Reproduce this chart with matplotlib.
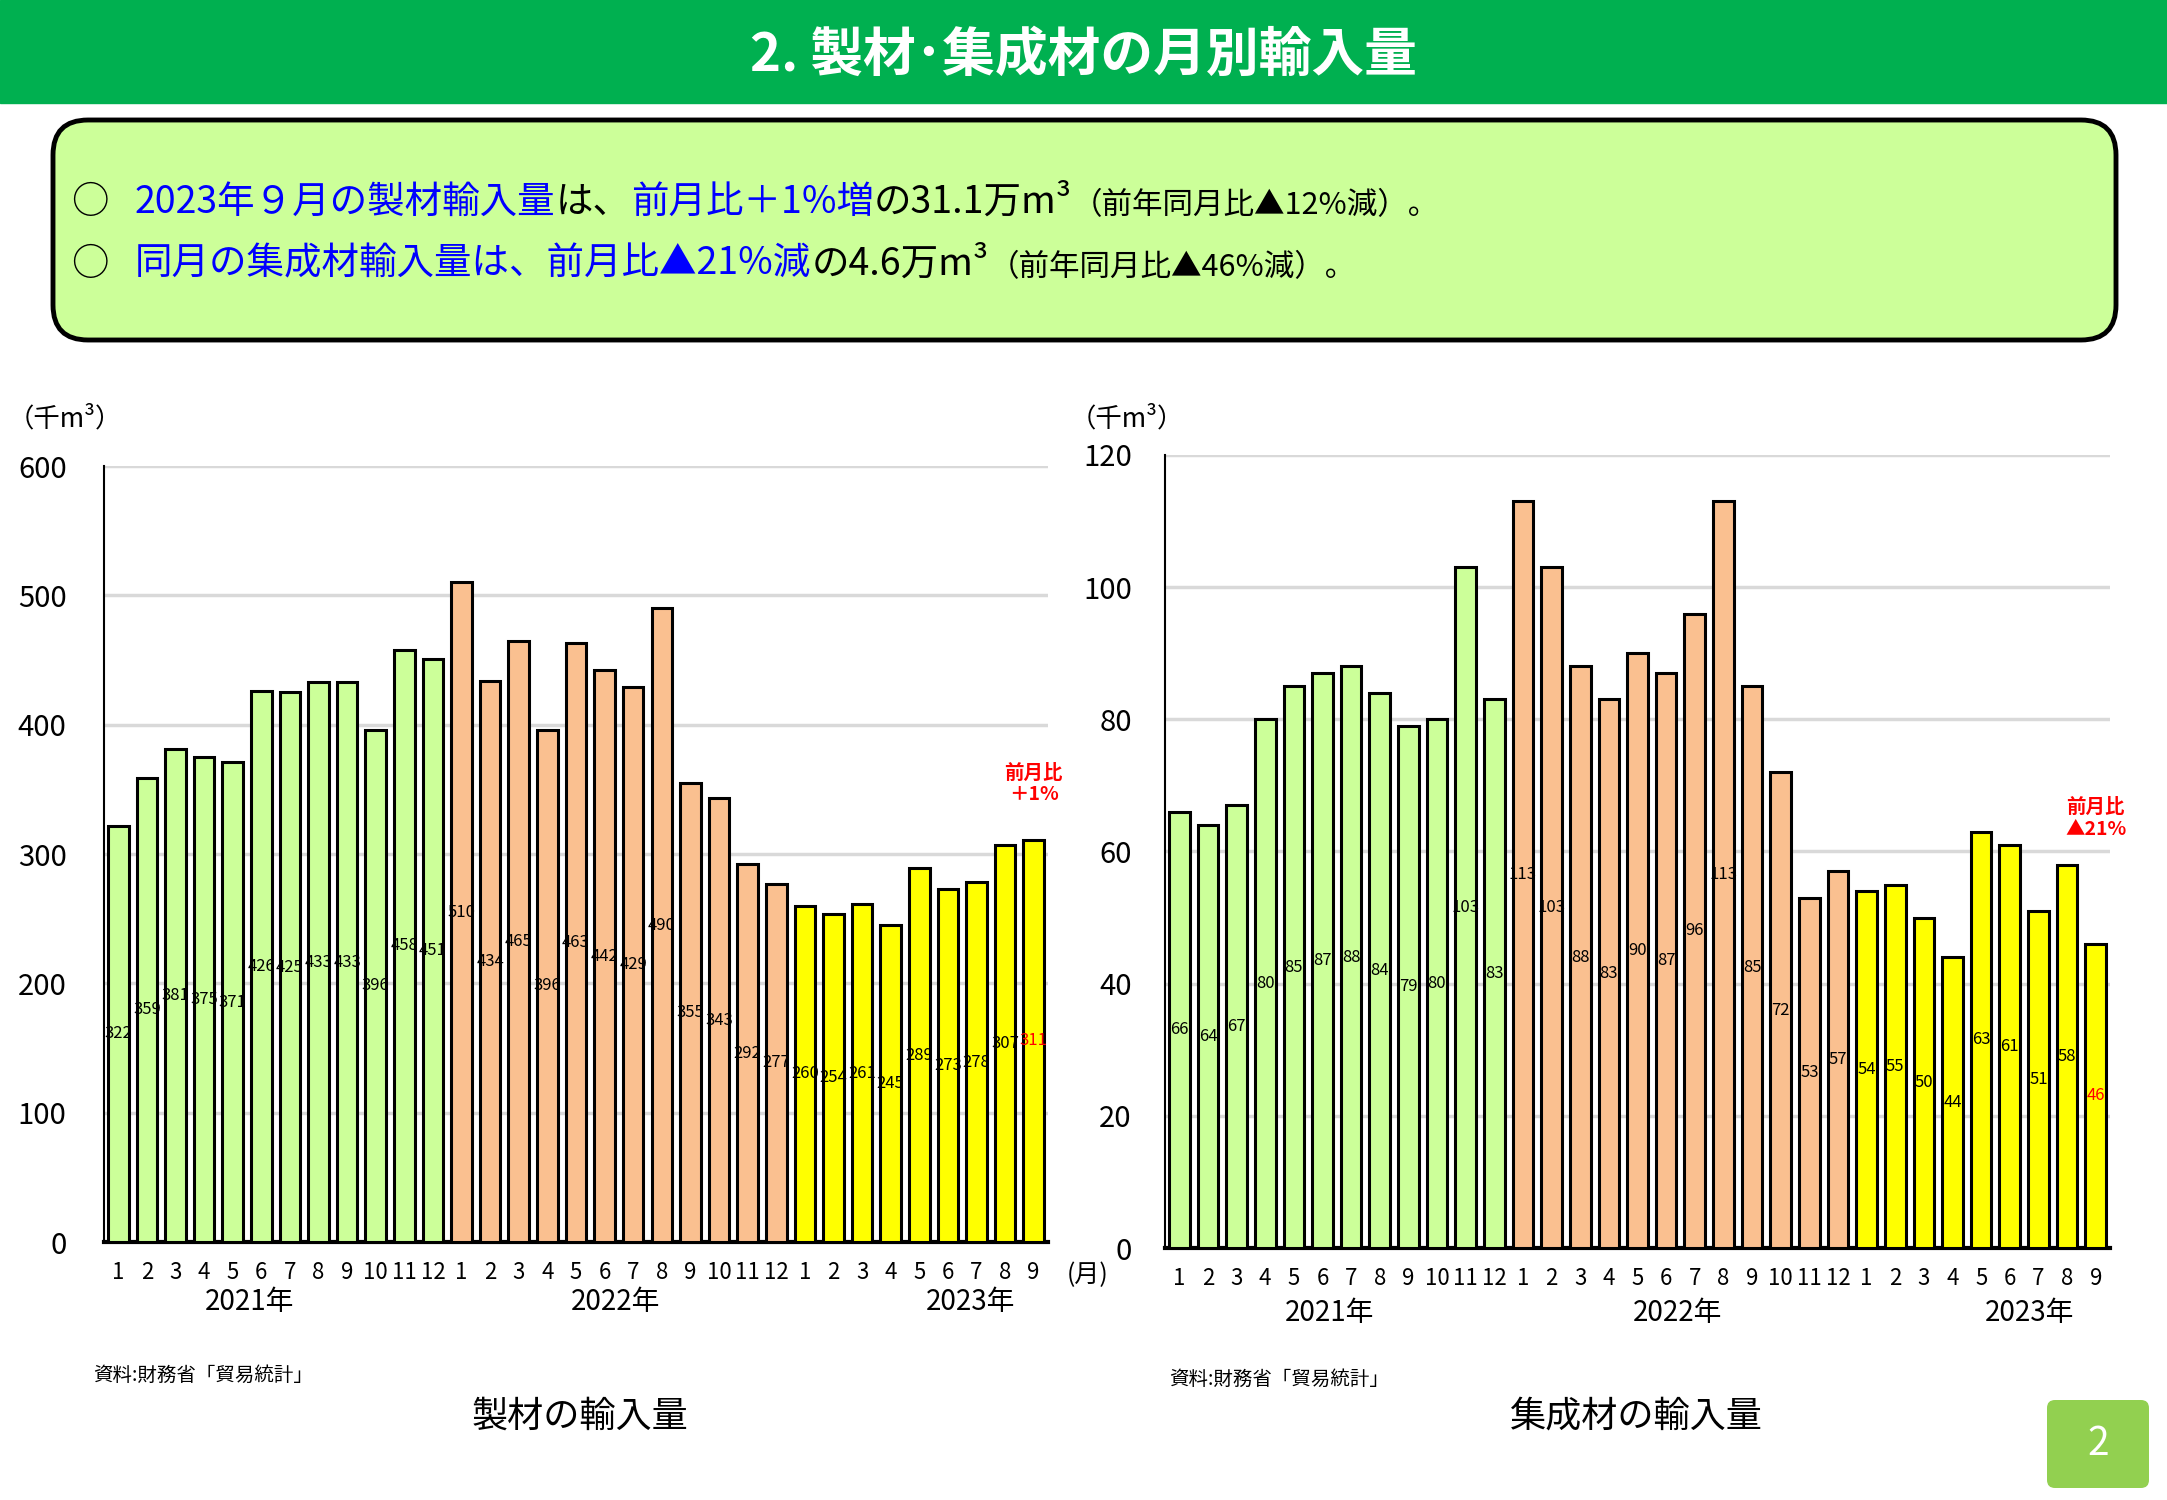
import matplotlib.pyplot as plt
from matplotlib.patches import FancyBboxPatch, Rectangle

plt.rcParams['font.family'] = ['Noto Sans CJK JP', 'DejaVu Sans']

# Data (thousand m3, Jan 2021 - Sep 2023)
months = [str(m) for m in range(1, 13)] * 2 + [str(m) for m in range(1, 10)]
years = ['2021年', '2022年', '2023年']
year_counts = [12, 12, 9]
year_colors = ['#CCFF99', '#FAC090', '#FFFF00']
sawn = [322, 359, 381, 375, 371, 426, 425, 433, 433, 396, 458, 451,
        510, 434, 465, 396, 463, 442, 429, 490, 355, 343, 292, 277,
        260, 254, 261, 245, 289, 273, 278, 307, 311]
glulam = [66, 64, 67, 80, 85, 87, 88, 84, 79, 80, 103, 83,
          113, 103, 88, 83, 90, 87, 96, 113, 85, 72, 53, 57,
          54, 55, 50, 44, 63, 61, 51, 58, 46]

BLUE = '#0000FF'
RED = '#FF0000'

fig = plt.figure(figsize=(21.67, 15), dpi=100)

# background layer in pixel units
bg = fig.add_axes([0, 0, 1, 1])
bg.set_xlim(0, 2167)
bg.set_ylim(1500, 0)
bg.axis('off')

# header band
bg.add_patch(Rectangle((0, 0), 2167, 103, color='#00B050'))
bg.text(1083, 55, '2. 製材･集成材の月別輸入量', color='white', fontsize=38,
        fontweight='bold', ha='center', va='center')

# summary box
bg.add_patch(FancyBboxPatch((53, 120), 2063, 220,
                            boxstyle='round,pad=0,rounding_size=35',
                            facecolor='#CCFF99', edgecolor='black', lw=3.5))


def write_line(x, y, parts):
    prev = bg.text(x, y, parts[0][0], color=parts[0][1], fontsize=parts[0][2],
                   ha='left', va='center')
    for txt, col, size in parts[1:]:
        prev = bg.annotate(txt, xy=(1, 0), xycoords=prev, color=col,
                           fontsize=size, ha='left', va='bottom')


bg.text(90, 202, '○', fontsize=27, ha='center', va='center')
bg.text(90, 264, '○', fontsize=27, ha='center', va='center')
write_line(135, 202, [('2023年９月の製材輸入量', BLUE, 27),
                      ('は、', 'black', 27),
                      ('前月比＋1%増', BLUE, 27),
                      ('の31.1万m³', 'black', 27),
                      ('（前年同月比▲12%減）。', 'black', 22)])
write_line(135, 264, [('同月の集成材輸入量は、前月比▲21%減', BLUE, 27),
                      ('の4.6万m³', 'black', 27),
                      ('（前年同月比▲46%減）。', 'black', 22)])

colors = []
for c, n in zip(year_colors, year_counts):
    colors += [c] * n


def draw_chart(ax, values, ymax, ystep, year_x, year_y, note, note_y, ypad):
    x = list(range(len(values)))
    ax.bar(x, values, width=0.72, color=colors, edgecolor='black', linewidth=2.2,
           zorder=3)
    for i, v in enumerate(values):
        ax.text(i, v / 2, str(v), ha='center', va='center', fontsize=12,
                color=RED if i == len(values) - 1 else 'black', zorder=4)
    ax.set_xlim(-0.5, len(values) - 0.5)
    ax.set_ylim(0, ymax)
    ax.set_yticks(range(0, ymax + 1, ystep))
    ax.set_xticks(x)
    ax.set_xticklabels(months, fontsize=16)
    ax.tick_params(axis='x', length=0, pad=14)
    ax.tick_params(axis='y', length=0, pad=ypad, labelsize=21)
    ax.yaxis.grid(True, color='#D9D9D9', lw=2.5)
    ax.set_axisbelow(True)
    for s in ['top', 'right']:
        ax.spines[s].set_visible(False)
    ax.spines['left'].set_linewidth(1.5)
    ax.spines['bottom'].set_linewidth(3)
    for yx, yl in zip(year_x, years):
        ax.text(yx, year_y, yl, fontsize=20, ha='center', va='center',
                transform=ax.get_xaxis_transform())
    ax.text(len(values) - 1, note_y, note, color=RED, fontsize=14,
            fontweight='bold', ha='center', va='center', linespacing=1.15)


ax1 = fig.add_axes([0.048, 0.172, 0.4356, 0.5173])
draw_chart(ax1, sawn, 600, 100, [4.6, 17.4, 29.8], -0.077,
           '前月比\n＋1%', 354, 27)
ax1.text(33.9, -0.042, '(月)', fontsize=18, ha='center', va='center',
         transform=ax1.get_xaxis_transform())

ax2 = fig.add_axes([0.5376, 0.168, 0.4361, 0.5287])
draw_chart(ax2, glulam, 120, 20, [5.25, 17.4, 29.7], -0.082,
           '前月比\n▲21%', 65, 24)

# unit labels, sources and titles
bg.text(8, 419, '（千m³）', fontsize=19, ha='left', va='center')
bg.text(1070, 419, '（千m³）', fontsize=19, ha='left', va='center')
bg.text(93, 1375, '資料:財務省「貿易統計」', fontsize=14, ha='left', va='center')
bg.text(1169, 1379, '資料:財務省「貿易統計」', fontsize=14, ha='left', va='center')
bg.text(580, 1417, '製材の輸入量', fontsize=26, ha='center', va='center')
bg.text(1636, 1417, '集成材の輸入量', fontsize=26, ha='center', va='center')

# page number
bg.add_patch(FancyBboxPatch((2047, 1400), 102, 88,
                            boxstyle='round,pad=0,rounding_size=8',
                            facecolor='#92D050', edgecolor='none'))
bg.text(2098, 1444, '2', color='white', fontsize=28, ha='center', va='center')

fig.savefig('out.png', dpi=100)
